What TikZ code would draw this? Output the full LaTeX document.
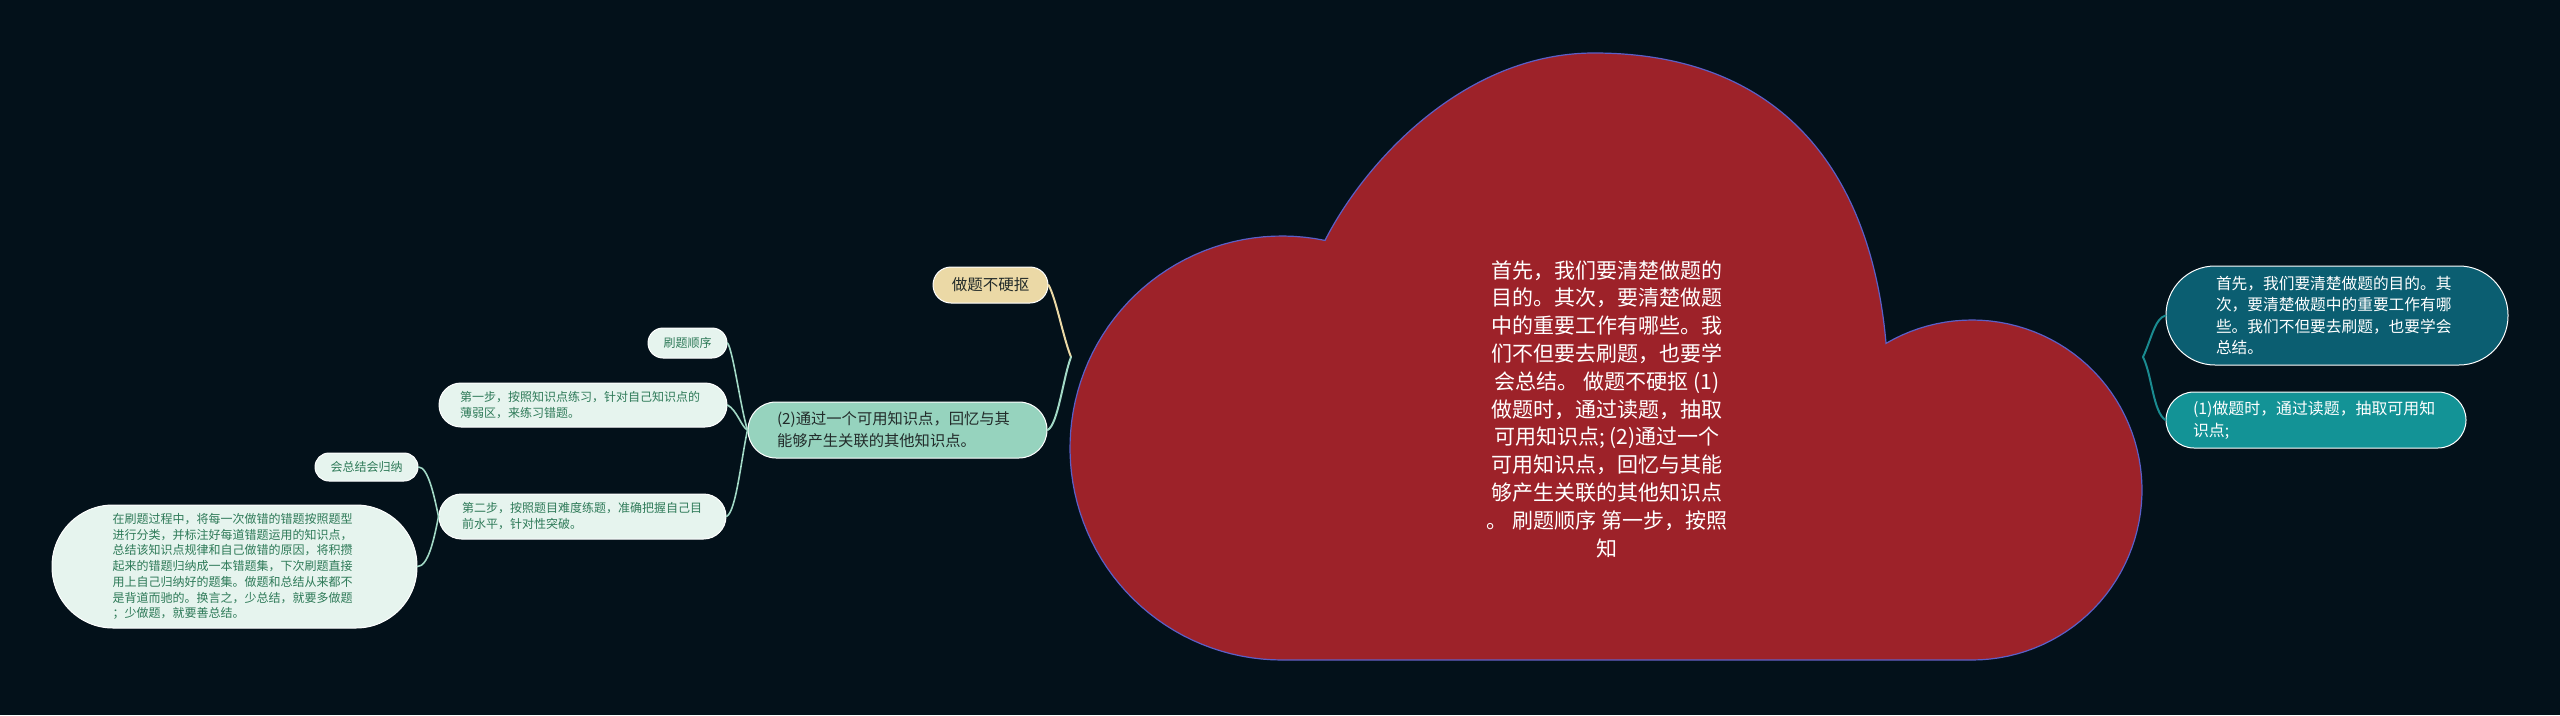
\documentclass[tikz,border=0pt]{standalone}
\usepackage{fontspec}
\newfontfamily\cjk{Noto Sans CJK SC}
\definecolor{bg}{HTML}{03111A}
\definecolor{cloudfill}{HTML}{9D2229}
\definecolor{cloudline}{HTML}{5B5FC7}
\definecolor{mint}{HTML}{96D3BE}
\definecolor{pale}{HTML}{E6F4EE}
\definecolor{paletext}{HTML}{2E7A58}
\definecolor{wheat}{HTML}{EBD9A6}
\definecolor{tealdark}{HTML}{0B5E71}
\definecolor{tealmid}{HTML}{139396}
\definecolor{linkmint}{HTML}{A2D9C6}
\definecolor{linkteal}{HTML}{1A8B90}
\definecolor{darktext}{HTML}{222B2A}
\tikzset{
  pillbase/.style={draw=white, line width=1pt, inner xsep=0pt, inner ysep=0pt, align=left},
  smallpill/.style={pillbase, fill=pale, text=paletext, font=\cjk\fontsize{12}{16}\selectfont},
  mintpill/.style={pillbase, fill=mint, text=darktext, font=\cjk\fontsize{15.3}{22}\selectfont},
  wheatpill/.style={pillbase, fill=wheat, text=darktext, font=\cjk\fontsize{15.5}{20}\selectfont},
  darkpill/.style={pillbase, fill=tealdark, text=white, font=\cjk\fontsize{15.7}{21.5}\selectfont},
  midpill/.style={pillbase, fill=tealmid, text=white, font=\cjk\fontsize{15.9}{22}\selectfont},
  linkline/.style={line width=2pt, line cap=round},
}
\begin{document}
\begin{tikzpicture}[x=1pt,y=-1pt]
\useasboundingbox (0,0) rectangle (2560,715);
\fill[bg] (0,0) rectangle (2560,715);

% cloud
\path[fill=cloudfill, draw=cloudline, line width=1.2pt]
  plot[domain=90:281.7, samples=70] ({1282+212*cos(\x)},{448+212*sin(\x)})
  .. controls (1365,162) and (1464,53) .. (1594,53)
  .. controls (1774,53) and (1870,163) .. (1886,343)
  -- plot[domain=239.6:450, samples=70] ({1972+170*cos(\x)},{490+170*sin(\x)})
  -- cycle;
\node[text=white, align=center, inner sep=0pt, font=\cjk\fontsize{21}{27.8}\selectfont] (root) at (1607,409)
  {首先，我们要清楚做题的\\目的。其次，要清楚做题\\中的重要工作有哪些。我\\们不但要去刷题，也要学\\会总结。 做题不硬抠 (1)\\做题时，通过读题，抽取\\可用知识点; (2)通过一个\\可用知识点，回忆与其能\\够产生关联的其他知识点\\。 刷题顺序 第一步，按照\\知};

% right side
\node[darkpill, text width=242pt, minimum width=342pt, minimum height=99pt, rounded corners=49pt] (r1) at (2337,315.5)
  {首先，我们要清楚做题的目的。其\\次，要清楚做题中的重要工作有哪\\些。我们不但要去刷题，也要学会\\总结。};
\node[midpill, text width=246pt, minimum width=300pt, minimum height=56pt, rounded corners=28pt] (r2) at (2316,420)
  {(1)做题时，通过读题，抽取可用知\\识点;};
\coordinate (jr) at (2143,357);
\draw[linkline, linkteal] (jr) .. controls (2151,340) and (2155,318) .. (r1.west);
\draw[linkline, linkteal] (jr) .. controls (2152,375) and (2153,412) .. (r2.west);

% left side, first level
\node[wheatpill, align=center, minimum width=115pt, minimum height=36pt, rounded corners=18pt] (zuoti) at (990.5,285) {做题不硬抠};
\node[mintpill, text width=241pt, minimum width=299pt, minimum height=56pt, rounded corners=28pt] (two) at (897.5,430)
  {(2)通过一个可用知识点，回忆与其\\能够产生关联的其他知识点。};
\coordinate (jl) at (1071,357);
\draw[linkline, wheat] (jl) .. controls (1063,337) and (1056,298) .. (zuoti.east);
\draw[linkline, linkmint] (jl) .. controls (1063,378) and (1058,425) .. (two.east);

% second level
\node[smallpill, align=center, minimum width=79pt, minimum height=30pt, rounded corners=15pt] (shunxu) at (687.5,343) {刷题顺序};
\node[smallpill, text width=246pt, minimum width=288pt, minimum height=44pt, rounded corners=22pt] (step1) at (583,405)
  {第一步，按照知识点练习，针对自己知识点的\\薄弱区，来练习错题。};
\node[smallpill, text width=241pt, minimum width=287pt, minimum height=45pt, rounded corners=22.5pt] (step2) at (582.5,516.5)
  {第二步，按照题目难度练题，准确把握自己目\\前水平，针对性突破。};
\draw[linkline, linkmint, line width=1.6pt] (two.west) .. controls (741,410) and (733,350) .. (shunxu.east);
\draw[linkline, linkmint, line width=1.6pt] (two.west) .. controls (742,428) and (737,410) .. (step1.east);
\draw[linkline, linkmint, line width=1.6pt] (two.west) .. controls (741,460) and (736,512) .. (step2.east);

% third level
\node[smallpill, align=center, minimum width=103pt, minimum height=28pt, rounded corners=14pt] (guina) at (366.5,467) {会总结会归纳};
\node[smallpill, font=\cjk\fontsize{12}{15.7}\selectfont, text width=244pt, minimum width=365pt, minimum height=123pt, rounded corners=61pt] (detail) at (234.5,566.5)
  {在刷题过程中，将每一次做错的错题按照题型\\进行分类，并标注好每道错题运用的知识点，\\总结该知识点规律和自己做错的原因，将积攒\\起来的错题归纳成一本错题集，下次刷题直接\\用上自己归纳好的题集。做题和总结从来都不\\是背道而驰的。换言之，少总结，就要多做题\\；少做题，就要善总结。};
\draw[linkline, linkmint, line width=1.6pt] (step2.west) .. controls (434,495) and (428,467) .. (guina.east);
\draw[linkline, linkmint, line width=1.6pt] (step2.west) .. controls (434,540) and (428,566.5) .. (detail.east);
\end{tikzpicture}
\end{document}
